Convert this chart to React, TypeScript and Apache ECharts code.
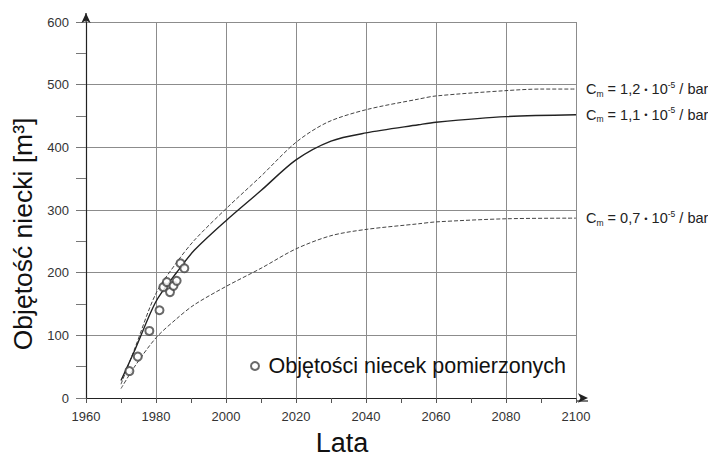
import React, { useEffect, useRef } from 'react';
import * as echarts from 'echarts';

const FONT = "'Liberation Sans', Arial, Helvetica, sans-serif";

// x axis (years) and y axis (m³) ranges
const xMin = 1960;
const xMax = 2100;
const xStep = 20;
const yMin = 0;
const yMax = 600;
const yStep = 100;

// Cm = 1,2 · 10^-5 / bar
const yearsHigh = [1970, 1974, 1980, 1986, 1991, 2000, 2010, 2020, 2029, 2040, 2055, 2060, 2080, 2090, 2100];
const valuesHigh = [22, 80, 167, 217, 252, 302, 354, 408, 440, 460, 477, 482, 490.5, 493, 493];

// Cm = 1,1 · 10^-5 / bar
const yearsMid = [1970, 1974, 1980, 1986, 1991, 2000, 2010, 2020, 2030, 2040, 2055, 2060, 2080, 2100];
const valuesMid = [28, 77, 154, 201, 236, 283, 331, 380, 410, 423, 436, 440, 449, 452];

// Cm = 0,7 · 10^-5 / bar
const yearsLow = [1970, 1974, 1980, 1986, 1991, 2000, 2010, 2020, 2030, 2040, 2055, 2060, 2080, 2100];
const valuesLow = [15, 51, 96, 127, 149, 178, 207, 238, 259, 269, 278, 281, 286, 287];

// measured basin volumes
const measuredYears = [1972.4, 1974.8, 1978.1, 1981, 1982.1, 1983.1, 1984, 1985, 1985.9, 1987, 1988.1];
const measuredValues = [43, 66, 107, 140, 177, 185, 169, 179, 187, 215, 207];

const coefficients = ['1,2', '1,1', '0,7'];
const seriesNames = ['Cm = 1,2', 'Cm = 1,1', 'Cm = 0,7'];
const legendName = 'Objętości niecek pomierzonych';

const pairs = (xs: number[], ys: number[]) => xs.map((x, i) => [x, ys[i]]);

const richStyles = {
  a: { fontSize: 14.5, color: '#222', fontFamily: FONT, lineHeight: 18, verticalAlign: 'middle' },
  b: { fontSize: 8.5, color: '#222', fontFamily: FONT, lineHeight: 8, verticalAlign: 'bottom' },
  c: { fontSize: 8.5, color: '#222', fontFamily: FONT, lineHeight: 8, verticalAlign: 'top' },
  d: { fontSize: 9.5, color: '#222', fontFamily: FONT, lineHeight: 18, verticalAlign: 'middle' },
};

const endLabel = (coef: string) => ({
  show: true,
  distance: 10,
  formatter: `{a|C}{b|m}{a| = ${coef} }{d|•}{a| 10}{c|-5}{a| / bar}`,
  rich: richStyles,
});

export default function App() {
  const ref = useRef<HTMLDivElement>(null);
  useEffect(() => {
    const chart = echarts.init(ref.current!, null, { renderer: 'svg' });
    const axisColor = '#222';
    chart.setOption({
      animation: false,
      backgroundColor: '#fff',
      grid: { left: 86, right: 132, top: 22, bottom: 60, containLabel: false },
      legend: {
        data: [legendName],
        left: 250,
        top: 355,
        padding: 0,
        itemWidth: 17,
        itemHeight: 8,
        textStyle: { fontSize: 21.5, color: '#111', fontFamily: FONT },
      },
      xAxis: {
        type: 'value',
        min: xMin,
        max: xMax,
        interval: xStep,
        name: 'Lata',
        nameLocation: 'middle',
        nameGap: 31,
        nameTextStyle: { fontSize: 27, color: '#111', fontFamily: FONT, padding: [0, 0, 0, 22] },
        axisLine: {
          show: true,
          lineStyle: { color: axisColor, width: 1.2 },
          symbol: ['none', 'arrow'],
          symbolSize: [7, 10],
          symbolOffset: [0, 12],
        },
        axisTick: { show: true, length: 5, lineStyle: { color: '#555' } },
        minorTick: { show: true, splitNumber: 2, length: 5, lineStyle: { color: '#555' } },
        axisLabel: {
          margin: 12,
          fontSize: 13,
          color: '#333',
          fontFamily: FONT,
          formatter: (v: number) => String(v),
        },
        splitLine: { show: true, lineStyle: { color: '#8c8c8c', width: 1 } },
      },
      yAxis: {
        type: 'value',
        min: yMin,
        max: yMax,
        interval: yStep,
        name: 'Objętość niecki [m³]',
        nameLocation: 'middle',
        nameGap: 45,
        nameTextStyle: { fontSize: 26.5, color: '#111', fontFamily: FONT, padding: [0, 48, 0, 0] },
        axisLine: {
          show: true,
          lineStyle: { color: axisColor, width: 1.2 },
          symbol: ['none', 'arrow'],
          symbolSize: [7, 10],
          symbolOffset: [0, 9],
        },
        axisTick: { show: true, length: 10, lineStyle: { color: '#777' } },
        minorTick: { show: true, splitNumber: 2, length: 10, lineStyle: { color: '#777' } },
        axisLabel: {
          margin: 17,
          fontSize: 13,
          color: '#333',
          fontFamily: FONT,
          formatter: (v: number) => String(v),
        },
        splitLine: { show: true, lineStyle: { color: '#8c8c8c', width: 1 } },
      },
      graphic: [
        { type: 'line', shape: { x1: 576, y1: 401, x2: 588, y2: 401 }, style: { stroke: axisColor, lineWidth: 1.2 }, silent: true },
        { type: 'line', shape: { x1: 86, y1: 22, x2: 86, y2: 13 }, style: { stroke: axisColor, lineWidth: 1.2 }, silent: true },
      ],
      series: [
        {
          name: seriesNames[0],
          type: 'line',
          data: pairs(yearsHigh, valuesHigh),
          smooth: 0.3,
          showSymbol: false,
          lineStyle: { color: '#444', width: 1, type: [4, 2] },
          endLabel: endLabel(coefficients[0]),
          z: 3,
        },
        {
          name: seriesNames[1],
          type: 'line',
          data: pairs(yearsMid, valuesMid),
          smooth: 0.3,
          showSymbol: false,
          lineStyle: { color: '#222', width: 1.4 },
          endLabel: endLabel(coefficients[1]),
          z: 3,
        },
        {
          name: seriesNames[2],
          type: 'line',
          data: pairs(yearsLow, valuesLow),
          smooth: 0.3,
          showSymbol: false,
          lineStyle: { color: '#444', width: 1, type: [4, 2] },
          endLabel: endLabel(coefficients[2]),
          z: 3,
        },
        {
          name: legendName,
          type: 'scatter',
          data: pairs(measuredYears, measuredValues),
          symbol: 'emptyCircle',
          symbolSize: 8,
          itemStyle: { color: '#444', borderWidth: 0.8 },
          z: 4,
        },
      ],
    });
    return () => chart.dispose();
  }, []);
  return <div ref={ref} style={{ position: 'fixed', left: 0, top: 0, width: 708, height: 461 }} />;
}
